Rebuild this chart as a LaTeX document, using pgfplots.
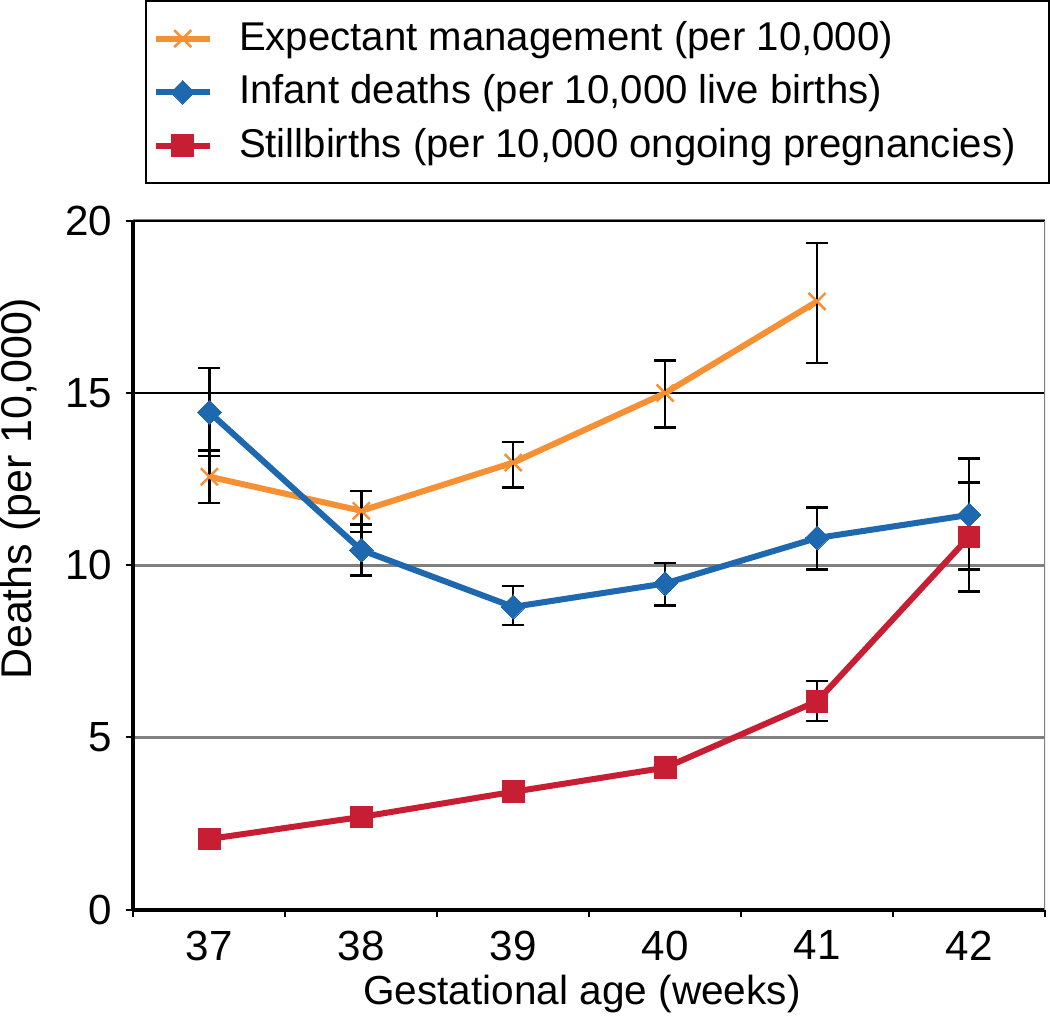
\documentclass[border=0pt]{standalone}
\usepackage{fontspec}
\setmainfont{Liberation Sans}
\usepackage{pgfplots}
\pgfplotsset{compat=1.18}
\definecolor{corange}{RGB}{246,144,52}
\definecolor{cblue}{RGB}{30,104,176}
\definecolor{cred}{RGB}{200,30,52}
\pgfplotstableread{
x y ep em
37 12.57 0.76 0.77
38 11.58 0.57 0.62
39 12.98 0.59 0.72
40 15.00 0.94 1.00
41 17.66 1.70 1.79
}\expectant
\pgfplotstableread{
x y ep em
37 14.44 1.29 1.27
38 10.44 0.74 0.74
39 8.79 0.60 0.52
40 9.47 0.59 0.64
41 10.79 0.88 0.91
42 11.46 1.64 1.58
}\infant
\pgfplotstableread{
x y ep em
37 2.05 0 0
38 2.69 0 0
39 3.42 0 0
40 4.12 0 0
41 6.05 0.59 0.58
42 10.82 1.58 1.58
}\still
\begin{document}
\begin{tikzpicture}
\begin{axis}[
  scale only axis, width=227pt, height=171.5pt,
  xmin=36.5, xmax=42.5, ymin=0, ymax=20,
  axis x line*=bottom, axis y line*=left,
  axis line style={-, line width=1pt, black},
  xtick={36.5,37.5,...,42.5},
  x tick label as interval,
  xticklabels={37,38,39,40,41,42},
  ytick={0,5,10,15,20},
  tick align=outside,
  major tick length=1.75pt,
  tick style={black, line width=0.5pt},
  ymajorgrids,
  major grid style={gray, line width=0.7pt},
  extra y ticks={15,20},
  extra y tick labels={},
  extra y tick style={major grid style={black, line width=0.6pt}},
  /pgf/number format/assume math mode=true,
  ticklabel style={font=\fontsize{10.5}{12}\selectfont},
  xlabel={Gestational age (weeks)},
  ylabel={Deaths (per 10,000)},
  every axis x label/.style={at={(axis description cs:0.492,0)}, anchor=center, yshift=-21pt, font=\fontsize{10.1}{12}\selectfont},
  every axis y label/.style={at={(axis description cs:-0.1244,0.611)}, anchor=center, rotate=90, inner sep=0pt, font=\fontsize{10.7}{13}\selectfont},
  legend cell align=left,
  legend style={at={(axis description cs:1.0055,1.3207)}, anchor=north east,
    draw=black, line width=0.5pt, font=\fontsize{10}{12}\selectfont,
    inner xsep=1.75pt, inner ysep=3pt, row sep=0.6pt,
    /tikz/every odd column/.append style={column sep=4.5pt}},
  legend image code/.code={\draw[mark repeat=2,mark phase=2,#1] plot coordinates {(0pt,0pt)(6.75pt,0pt)(13.5pt,0pt)};},
  error bars/y dir=both, error bars/y explicit,
  error bars/error bar style={black, line width=0.6pt},
  error bars/error mark options={rotate=90, mark size=2.75pt, black, line width=0.6pt},
]
\addplot[corange, line width=1.5pt, mark=x, mark size=3pt, mark options={line width=0.6pt}]
  table[x=x, y=y, y error plus=ep, y error minus=em] {\expectant};
\addlegendentry{Expectant management (per 10,000)\kern4.5pt}
\addplot[cblue, line width=1.5pt, mark=square*, mark size=2.1pt, mark options={rotate=45, line width=0pt}]
  table[x=x, y=y, y error plus=ep, y error minus=em] {\infant};
\addlegendentry{Infant deaths (per 10,000 live births)\kern4.5pt}
\addplot[cred, line width=1.5pt, mark=square*, mark size=2.7pt, mark options={line width=0pt}]
  table[x=x, y=y, y error plus=ep, y error minus=em] {\still};
\addlegendentry{Stillbirths (per 10,000 ongoing pregnancies)\kern4.5pt}
\draw[gray, line width=0.5pt] (rel axis cs:1,0) -- (rel axis cs:1,1);
\end{axis}
\end{tikzpicture}
\end{document}
